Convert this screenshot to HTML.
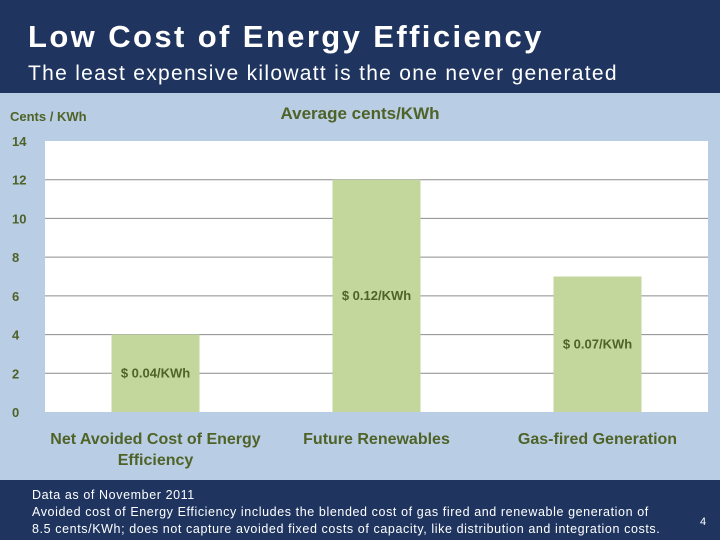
<!DOCTYPE html>
<html><head><meta charset="utf-8"><style>
body{margin:0;width:720px;height:540px;overflow:hidden;background:#1f3560;font-family:"Liberation Sans",sans-serif}
#hdr{position:absolute;left:0;top:0;width:720px;height:93px;background:#1f3560}
#t1{position:absolute;left:28px;top:19px;color:#fff;font-weight:bold;font-size:31px;letter-spacing:2.4px}
#t2{position:absolute;left:28px;top:62px;color:#fff;font-size:21px;letter-spacing:1.3px}
#chart{position:absolute;left:0;top:93px;width:720px;height:387px;background:#b9cde4}
#foot{position:absolute;left:32px;top:487px;color:#fff;font-size:12.5px;line-height:17px;letter-spacing:0.6px}
#pg{position:absolute;left:700px;top:516px;color:#fff;font-size:11px}
</style></head><body>
<div id="hdr">
<div id="t1">Low Cost of Energy Efficiency</div>
<div id="t2">The least expensive kilowatt is the one never generated</div>
</div>
<div id="chart">
<svg id="svg" width="720" height="387" xmlns="http://www.w3.org/2000/svg" font-family="Liberation Sans, sans-serif"></svg>
</div>
<div id="foot">Data as of November 2011<br>Avoided cost of Energy Efficiency includes the blended cost of gas fired and renewable generation of<br>8.5 cents/KWh; does not capture avoided fixed costs of capacity, like distribution and integration costs.</div>
<div id="pg">4</div>
<script>
const categories=[["Net Avoided Cost of Energy","Efficiency"],["Future Renewables"],["Gas-fired Generation"]];
const values=[4,12,7];
const valueLabels=["$ 0.04/KWh","$ 0.12/KWh","$ 0.07/KWh"];
const ticks=[0,2,4,6,8,10,12,14];
const svg=document.getElementById('svg');
const NS='http://www.w3.org/2000/svg';
const L=45,R=708,T=48,B=319,maxV=14;
const y=v=>B-(v/maxV)*(B-T);
const band=(R-L)/categories.length;
const xc=i=>L+band*(i+0.5);
const bw=88;
const green='#4f6228';
function el(tag,attrs,txt){const e=document.createElementNS(NS,tag);for(const k in attrs)e.setAttribute(k,attrs[k]);if(txt!==undefined)e.textContent=txt;svg.appendChild(e);return e;}
let e=el('rect',{x:L,y:T,width:R-L,height:B-T,fill:'#fff'});


e=el('text',{x:10,y:28,fill:green,'font-size':13,'font-weight':'bold'},'Cents / KWh');


e=el('text',{x:360,y:26,fill:green,'font-size':17,'font-weight':'bold','text-anchor':'middle'},'Average cents/KWh');


ticks.forEach(t=>{
 if(t>0&&t<maxV){e=el('line',{x1:L,x2:R,y1:y(t),y2:y(t),stroke:'#8c8c8c','stroke-width':1});
 
 }
 e=el('text',{x:12,y:y(t)+5,fill:green,'font-size':13,'font-weight':'bold'},String(t));
 
 
});
values.forEach((v,i)=>{
 e=el('rect',{x:xc(i)-bw/2,y:y(v),width:bw,height:B-y(v),fill:'#c3d69b'});
 
 
 e=el('text',{x:xc(i),y:y(v/2)+4,fill:green,'font-size':13,'font-weight':'bold','text-anchor':'middle'},valueLabels[i]);
 
 
 categories[i].forEach((ln,j)=>{
  e=el('text',{x:xc(i),y:351+j*21,fill:green,'font-size':16,'font-weight':'bold','text-anchor':'middle'},ln);
  
  
 });
});
</script>
</body></html>
